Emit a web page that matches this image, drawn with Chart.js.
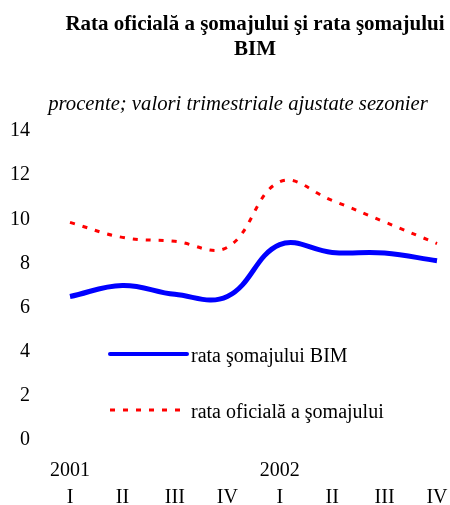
<!DOCTYPE html>
<html>
<head>
<meta charset="utf-8">
<script src="https://cdn.jsdelivr.net/npm/chart.js@4/dist/chart.umd.min.js"></script>
<style>
  html, body { margin: 0; padding: 0; background: #ffffff; }
  #wrap { width: 450px; height: 505px; }
</style>
</head>
<body>
<div id="wrap"><canvas id="chart" width="450" height="505"></canvas></div>
<script>
// Quarterly seasonally adjusted unemployment rates, 2001–2002 (%)
const quarters = ['I', 'II', 'III', 'IV', 'I', 'II', 'III', 'IV'];
const years = ['2001', '', '', '', '2002', '', '', ''];
const rateBIM = [6.5, 7.0, 6.6, 6.5, 8.85, 8.5, 8.47, 8.12];
const rateOfficial = [9.86, 9.18, 9.0, 8.73, 11.7, 10.85, 9.88, 8.9];
const yMin = 0, yMax = 14, yStep = 2;

const titleLines = ['Rata oficială a şomajului şi rata şomajului', 'BIM'];
const subtitleText = 'procente; valori trimestriale ajustate sezonier';
const seriesNames = ['rata şomajului BIM', 'rata oficială a şomajului'];

const SERIF = '"Liberation Serif", "Times New Roman", serif';

// Bold two-line heading and the italic unit note beneath it
const headings = {
  id: 'headings',
  afterDraw(chart) {
    const ctx = chart.ctx;
    ctx.save();
    ctx.fillStyle = '#000';
    ctx.textAlign = 'center';
    ctx.textBaseline = 'middle';
    ctx.font = 'bold 21px ' + SERIF;
    titleLines.forEach((line, i) => ctx.fillText(line, 255, 25 + i * 25));
    ctx.font = 'italic 20.7px ' + SERIF;
    ctx.fillText(subtitleText, 238, 105);
    ctx.restore();
  }
};

// Legend drawn inside the plot area, below the curves
const innerLegend = {
  id: 'innerLegend',
  afterDatasetsDraw(chart) {
    const ctx = chart.ctx;
    const area = chart.chartArea;
    const x0 = area.left + 40, x1 = area.left + 117;
    const rows = [area.top + 223, area.top + 279];
    ctx.save();
    chart.data.datasets.forEach((ds, i) => {
      const y = rows[i];
      ctx.beginPath();
      ctx.strokeStyle = ds.borderColor;
      ctx.lineWidth = i === 0 ? 4 : 3;
      ctx.lineCap = i === 0 ? 'round' : 'butt';
      ctx.setLineDash(ds.borderDash || []);
      ctx.moveTo(x0, y);
      ctx.lineTo(x1, y);
      ctx.stroke();
      ctx.setLineDash([]);
      ctx.font = '20px ' + SERIF;
      ctx.fillStyle = '#000';
      ctx.textAlign = 'left';
      ctx.textBaseline = 'middle';
      ctx.fillText(ds.label, x1 + 4, y + 3);
    });
    ctx.restore();
  }
};

new Chart(document.getElementById('chart'), {
  type: 'line',
  data: {
    labels: quarters.map((q, i) => [years[i], q]),
    datasets: [
      {
        label: seriesNames[0],
        data: rateBIM,
        borderColor: '#0000ff',
        borderWidth: 5,
        pointRadius: 0,
        tension: 0.4,
        fill: false
      },
      {
        label: seriesNames[1],
        data: rateOfficial,
        borderColor: '#ff0000',
        borderWidth: 3,
        borderDash: [5, 8],
        pointRadius: 0,
        tension: 0.4,
        fill: false
      }
    ]
  },
  options: {
    responsive: false,
    animation: false,
    layout: { padding: { top: 131, left: 10, right: 13, bottom: 0 } },
    plugins: {
      legend: { display: false },
      tooltip: { enabled: false },
      title: { display: false }
    },
    scales: {
      x: {
        type: 'category',
        offset: false,
        grid: { display: false, drawTicks: false },
        border: { display: false },
        afterFit(scale) {
          scale.height = 65;
          scale.paddingLeft = 0;
          scale.paddingRight = 0;
        },
        ticks: {
          color: '#000',
          font: { family: SERIF, size: 20, lineHeight: 1.35 },
          padding: 17,
          maxRotation: 0,
          autoSkip: false
        }
      },
      y: {
        min: yMin,
        max: yMax,
        grid: { display: false, drawTicks: false },
        border: { display: false },
        afterFit(scale) { scale.width = 60; },
        ticks: {
          stepSize: yStep,
          color: '#000',
          font: { family: SERIF, size: 20 },
          padding: 40
        }
      }
    }
  },
  plugins: [headings, innerLegend]
});
</script>
</body>
</html>
